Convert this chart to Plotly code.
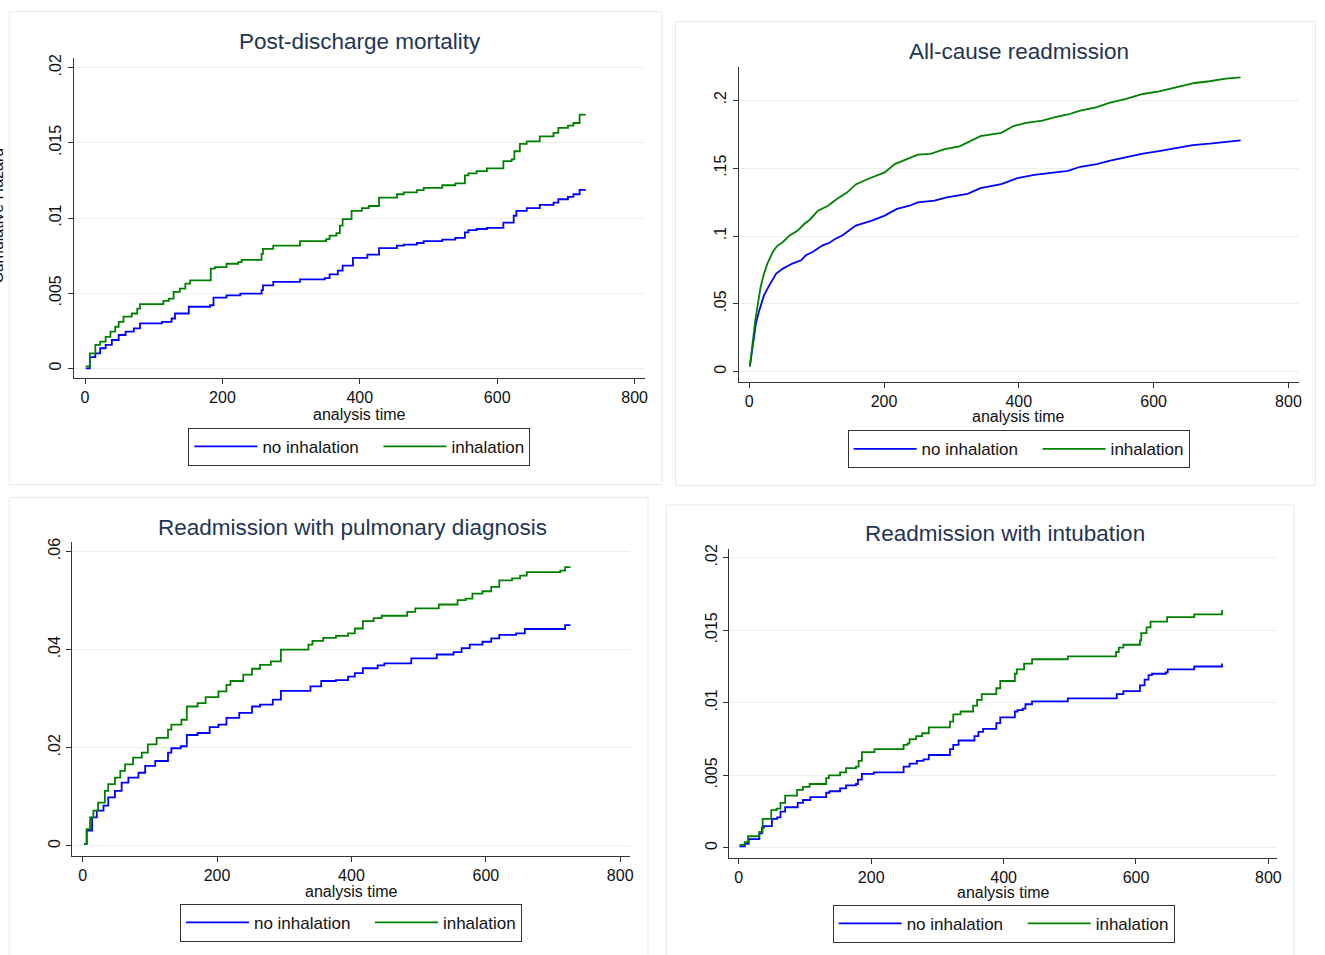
import plotly.graph_objects as go

W, H = 1325, 955

# ---------------- data ----------------
series_names = ["no inhalation", "inhalation"]
x_tickvals = [0, 200, 400, 600, 800]
x_ticktext = ["0", "200", "400", "600", "800"]

titles = ["Post-discharge mortality", "All-cause readmission",
          "Readmission with pulmonary diagnosis", "Readmission with intubation"]

# Panel 1: post-discharge mortality
mort_t_no = [1, 7, 15, 22, 30, 39, 49, 59, 71, 80, 112, 126, 131, 151, 182, 187, 206, 226, 257, 259,
             274, 313, 349, 356, 368, 375, 390, 411, 428, 454, 464, 483, 493, 520, 539, 553, 558, 570, 585, 609,
             624, 628, 643, 662, 682, 689, 703, 711, 720, 728]
mort_v_no = [0.0, 0.00075, 0.001, 0.00134, 0.00156, 0.00189, 0.00222, 0.00244, 0.00266, 0.003,
             0.0031, 0.00332, 0.00365, 0.0041, 0.0042, 0.00471, 0.00486, 0.00497, 0.0052, 0.00552,
             0.00575, 0.00592, 0.006, 0.00625, 0.0065, 0.00684, 0.00735, 0.00757, 0.0080, 0.00817,
             0.00823, 0.00834, 0.00846, 0.00857, 0.00868, 0.00905, 0.0092, 0.00927, 0.00934, 0.0097,
             0.01015, 0.01048, 0.01066, 0.01088, 0.01103, 0.01125, 0.0114, 0.01158, 0.01187, 0.0119]
mort_t_in = [1, 7, 15, 22, 30, 37, 44, 49, 56, 68, 76, 80, 114, 122, 129, 138, 146, 153, 183, 189,
             206, 223, 228, 257, 259, 274, 313, 351, 356, 366, 371, 375, 388, 403, 413, 428, 454, 464, 483, 493,
             520, 539, 553, 558, 570, 585, 609, 621, 625, 633, 643, 662, 682, 689, 703, 711, 720, 728]
mort_v_in = [0.00013, 0.001, 0.00156, 0.00178, 0.0021, 0.00244, 0.00277, 0.0031, 0.00344, 0.00365,
             0.00398, 0.00427, 0.00449, 0.00464, 0.00509, 0.0053, 0.00564, 0.00585, 0.00663, 0.00674,
             0.00696, 0.00707, 0.00722, 0.00762, 0.00795, 0.00817, 0.00846, 0.0086, 0.00883, 0.00899,
             0.00949, 0.00993, 0.01048, 0.01066, 0.0108, 0.01136, 0.01158, 0.0117, 0.01185, 0.012,
             0.01218, 0.01231, 0.01284, 0.01297, 0.01312, 0.0133, 0.01378, 0.0139, 0.01444, 0.01493,
             0.0151, 0.01543, 0.01566, 0.016, 0.01614, 0.01632, 0.01687, 0.0169]
mort_yticks = [0, 0.005, 0.01, 0.015, 0.02]
mort_ytext = ["0", ".005", ".01", ".015", ".02"]

# Panel 2: all-cause readmission
allc_t_no = [1, 5, 10, 15, 22, 30, 40, 50, 64, 77, 84, 94, 109, 119, 128, 138, 148, 158, 182, 201,
             219, 238, 250, 275, 293, 324, 343, 374, 398, 423, 454, 473, 491, 516, 534, 559, 584, 608,
             633, 658, 683, 707, 729]
allc_v_no = [0.004, 0.0186, 0.0357, 0.0454, 0.0564, 0.0638, 0.0723, 0.076, 0.0797, 0.0821,
             0.0858, 0.0882, 0.0931, 0.095, 0.098, 0.1004, 0.104, 0.1077, 0.1113, 0.115,
             0.120, 0.1223, 0.1248, 0.126, 0.1284, 0.131, 0.1353, 0.1382, 0.1426, 0.145,
             0.1468, 0.148, 0.151, 0.1529, 0.1553, 0.1582, 0.1607, 0.1626,
             0.1646, 0.167, 0.168, 0.1695, 0.1705]
allc_t_in = [1, 5, 9, 13, 17, 22, 27, 35, 41, 50, 60, 72, 82, 90, 102, 117, 130, 145, 158, 176,
             201, 216, 235, 250, 269, 290, 312, 324, 343, 374, 392, 411, 435, 454, 473, 491, 516, 534,
             559, 584, 608, 633, 661, 683, 707, 729]
allc_v_in = [0.004, 0.0235, 0.0381, 0.0503, 0.0626, 0.0723, 0.0797, 0.0882, 0.0924, 0.0956,
             0.1004, 0.104, 0.109, 0.112, 0.1187, 0.1223, 0.1272, 0.132, 0.138, 0.142,
             0.1468, 0.153, 0.157, 0.160, 0.1605, 0.164, 0.166, 0.169, 0.1736, 0.176,
             0.181, 0.1834, 0.185, 0.1875, 0.1895, 0.1924, 0.195, 0.198,
             0.201, 0.2046, 0.2066, 0.2095, 0.2127, 0.214, 0.2159, 0.2168]
allc_yticks = [0, 0.05, 0.1, 0.15, 0.2]
allc_ytext = ["0", ".05", ".1", ".15", ".2"]

# Panel 3: readmission with pulmonary diagnosis
pulm_t_no = [2, 6, 14, 21, 31, 38, 48, 58, 68, 83, 93, 108, 127, 132, 146, 155, 171, 189, 202, 214,
             233, 252, 264, 283, 295, 339, 355, 377, 395, 405, 417, 439, 449, 489, 527, 552, 564, 576,
             595, 608, 620, 645, 658, 718, 726]
pulm_v_no = [0.0004, 0.0031, 0.0058, 0.0072, 0.0082, 0.0099, 0.0112, 0.0129, 0.0139, 0.0149,
             0.0163, 0.0173, 0.019, 0.0199, 0.0203, 0.0226, 0.0230, 0.0242, 0.0247, 0.0261,
             0.0271, 0.0284, 0.0288, 0.0298, 0.0316, 0.0325, 0.0336, 0.0338, 0.0345, 0.0352,
             0.0362, 0.0368, 0.0372, 0.0382, 0.039, 0.0395, 0.0403, 0.041,
             0.0416, 0.0423, 0.043, 0.0433, 0.0442, 0.045, 0.045]
pulm_t_in = [2, 6, 11, 16, 23, 33, 38, 48, 56, 63, 75, 88, 97, 110, 127, 132, 147, 155, 171, 183,
             202, 214, 220, 239, 252, 264, 280, 295, 336, 342, 358, 377, 395, 405, 417, 433, 445, 483,
             495, 530, 558, 570, 580, 595, 608, 620, 639, 651, 661, 711, 718, 726]
pulm_v_in = [0.0004, 0.0034, 0.0058, 0.0072, 0.0088, 0.0112, 0.0126, 0.0139, 0.0153, 0.0166,
             0.018, 0.019, 0.0207, 0.022, 0.0237, 0.0247, 0.0257, 0.0284, 0.0291, 0.0303,
             0.0315, 0.0328, 0.0336, 0.0349, 0.0361, 0.0369, 0.0376, 0.040, 0.041, 0.0418,
             0.0424, 0.0428, 0.0433, 0.0443, 0.0458, 0.0464, 0.0469, 0.0477,
             0.0484, 0.0492, 0.0501, 0.0504, 0.0514, 0.0519, 0.0528, 0.0541, 0.0545, 0.0551,
             0.0558, 0.0561, 0.0568, 0.0568]
pulm_yticks = [0, 0.02, 0.04, 0.06]
pulm_ytext = ["0", ".02", ".04", ".06"]

# Panel 4: readmission with intubation
intu_t_no = [1, 9, 15, 31, 35, 38, 50, 58, 63, 70, 89, 97, 108, 132, 137, 153, 162, 177, 180, 186,
             204, 249, 258, 269, 279, 287, 319, 324, 332, 356, 362, 369, 389, 395, 417, 421, 429, 433,
             443, 497, 571, 581, 606, 613, 619, 624, 645, 648, 688, 730]
intu_v_no = [0.0001, 0.00027, 0.0006, 0.001, 0.0014, 0.0015, 0.002, 0.0021, 0.0025, 0.0028,
             0.0031, 0.0033, 0.0035, 0.0038, 0.0039, 0.0041, 0.0043, 0.0044, 0.0047, 0.0051,
             0.0052, 0.0056, 0.0058, 0.006, 0.0061, 0.0064, 0.0068, 0.0071, 0.0074, 0.0077,
             0.008, 0.0082, 0.0086, 0.009, 0.0094, 0.0095, 0.0096, 0.0099,
             0.0101, 0.0103, 0.0106, 0.0108, 0.0112, 0.0116, 0.0119, 0.012, 0.0121, 0.0123,
             0.0125, 0.0127]
intu_t_in = [1, 9, 14, 31, 36, 49, 57, 63, 70, 88, 97, 107, 132, 136, 153, 162, 177, 181, 186, 205,
             249, 255, 258, 268, 277, 287, 319, 324, 335, 354, 360, 367, 389, 395, 417, 420, 431, 443,
             497, 570, 574, 581, 606, 608, 616, 622, 647, 688, 730]
intu_v_in = [0.0002, 0.0004, 0.0008, 0.0011, 0.002, 0.0026, 0.0027, 0.0031, 0.0036, 0.004,
             0.0042, 0.0044, 0.0048, 0.005, 0.0052, 0.0055, 0.0056, 0.006, 0.0066, 0.0068,
             0.0071, 0.0072, 0.0075, 0.0077, 0.0079, 0.0083, 0.0087, 0.0092, 0.0094, 0.0098,
             0.0102, 0.0106, 0.011, 0.0115, 0.012, 0.0123, 0.0127, 0.013,
             0.0132, 0.0135, 0.0138, 0.014, 0.0143, 0.0148, 0.0152, 0.0156, 0.0159, 0.0161, 0.0164]
intu_yticks = [0, 0.005, 0.01, 0.015, 0.02]
intu_ytext = ["0", ".005", ".01", ".015", ".02"]

# ---------------- layout helpers ----------------
def px(x):
    return x / W

def py(y):
    return 1 - y / H

FONT = "Liberation Sans, Arial, Helvetica, sans-serif"
BLUE = "#0000ff"
GREEN = "#008000"
GRID = "#e9eff2"
FRAME = "#e3ebee"
AXC = "#333333"
TITLEC = "#1f3553"

panels = [
    dict(data=(mort_t_no, mort_v_no, mort_t_in, mort_v_in), yt=(mort_yticks, mort_ytext), shape="hv",
         xpx=(74, 646.7), ypx=(53, 375), xr=(-16.4, 814.8), yr=(-0.00064, 0.02066),
         title=(361.5, 37), xtitle=(361, 411.7), leg=(360.5, 425),
         frame=(9.3, 6.7, 664, 482)),
    dict(data=(allc_t_no, allc_v_no, allc_t_in, allc_v_in), yt=(allc_yticks, allc_ytext), shape="linear",
         xpx=(741, 1302.8), ypx=(62.3, 379), xr=(-15.5, 815.5), yr=(-0.00755, 0.2245),
         title=(1022.5, 47), xtitle=(1022, 414), leg=(1021.7, 427.5),
         frame=(677.5, 16.7, 1319.5, 483)),
    dict(data=(pulm_t_no, pulm_v_no, pulm_t_in, pulm_v_in), yt=(pulm_yticks, pulm_ytext), shape="hv",
         xpx=(72.4, 632), ypx=(540, 855), xr=(-15.6, 814.7), yr=(-0.00197, 0.0619),
         title=(354, 525), xtitle=(353, 890.7), leg=(352, 903.5),
         frame=(9.3, 495, 650, 970)),
    dict(data=(intu_t_no, intu_v_no, intu_t_in, intu_v_in), yt=(intu_yticks, intu_ytext), shape="hv",
         xpx=(731.2, 1281.3), ypx=(547.3, 857.3), xr=(-14.8, 813.7), yr=(-0.000686, 0.02057),
         title=(1007.8, 531.7), xtitle=(1007, 891.7), leg=(1006.7, 904.5),
         frame=(668.5, 502.7, 1298, 970)),
]

fig = go.Figure()
annotations = []
shapes = []
layout_axes = {}

for i, p in enumerate(panels):
    k = i + 1
    xa = "x" if k == 1 else f"x{k}"
    ya = "y" if k == 1 else f"y{k}"
    leg = "legend" if k == 1 else f"legend{k}"
    t_no, v_no, t_in, v_in = p["data"]
    for j, (name, tt, vv, col) in enumerate(((series_names[0], t_no, v_no, BLUE),
                                             (series_names[1], t_in, v_in, GREEN))):
        extra = dict(legendwidth=111) if j == 0 else {}
        fig.add_trace(go.Scatter(x=tt, y=vv, mode="lines", name=name,
                                 line=dict(color=col, width=1.8, shape=p["shape"]),
                                 xaxis=xa, yaxis=ya, legend=leg, hoverinfo="x+y", **extra))
    xkey = "xaxis" if k == 1 else f"xaxis{k}"
    ykey = "yaxis" if k == 1 else f"yaxis{k}"
    layout_axes[xkey] = dict(domain=[px(p["xpx"][0]), px(p["xpx"][1])], range=list(p["xr"]),
                             anchor=ya, tickvals=x_tickvals, ticktext=x_ticktext,
                             showline=True, linecolor=AXC, linewidth=1, ticks="outside", ticklen=5,
                             tickcolor=AXC, showgrid=False, zeroline=False,
                             tickfont=dict(size=16, color="#111", family=FONT), fixedrange=True)
    layout_axes[ykey] = dict(domain=[py(p["ypx"][1]), py(p["ypx"][0])], range=list(p["yr"]),
                             anchor=xa, tickvals=p["yt"][0], ticktext=p["yt"][1], tickangle=-90,
                             showline=True, linecolor=AXC, linewidth=1, ticks="outside", ticklen=5,
                             tickcolor=AXC, showgrid=True, gridcolor=GRID, gridwidth=1, zeroline=False,
                             tickfont=dict(size=16, color="#111", family=FONT), fixedrange=True)
    annotations.append(dict(text=titles[i], x=px(p["title"][0]), y=py(p["title"][1]), xref="paper", yref="paper",
                            xanchor="center", yanchor="middle", showarrow=False,
                            font=dict(size=22.5, color=TITLEC, family=FONT)))
    annotations.append(dict(text="analysis time", x=px(p["xtitle"][0]), y=py(p["xtitle"][1]), xref="paper",
                            yref="paper", xanchor="center", yanchor="middle", showarrow=False,
                            font=dict(size=16, color="#111", family=FONT)))
    fx0, fy0, fx1, fy1 = p["frame"]
    shapes.append(dict(type="rect", xref="paper", yref="paper", x0=px(fx0), x1=px(fx1), y0=py(fy1), y1=py(fy0),
                       line=dict(color=FRAME, width=1), fillcolor="rgba(0,0,0,0)", layer="below"))
    layout_axes[leg] = dict(orientation="h", x=px(p["leg"][0]), y=py(p["leg"][1]), xanchor="center",
                            yanchor="top", xref="paper", yref="paper", bordercolor=AXC, borderwidth=1,
                            bgcolor="white", font=dict(size=17, color="#111", family=FONT),
                            itemwidth=63, traceorder="normal", itemclick=False, itemdoubleclick=False)

# y-axis title, cut by the left edge of the page as in the original
annotations.append(dict(text="Cumulative Hazard", x=px(8.5), y=py(212), xref="paper", yref="paper",
                        xanchor="right", yanchor="middle", textangle=-90, showarrow=False,
                        font=dict(size=16, color="#111", family=FONT)))

fig.update_layout(width=W, height=H, margin=dict(l=0, r=0, t=0, b=0), paper_bgcolor="white",
                  plot_bgcolor="white", showlegend=True, annotations=annotations, shapes=shapes,
                  font=dict(family=FONT), **layout_axes)

fig.write_html("out.html", config={"displayModeBar": False},
               post_script="document.body.style.margin='0px';document.body.style.overflow='hidden';")
